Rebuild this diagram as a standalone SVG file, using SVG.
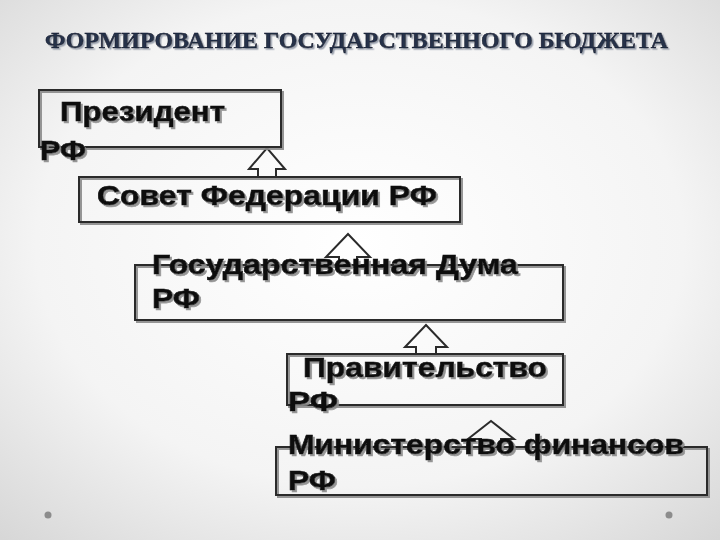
<svg xmlns="http://www.w3.org/2000/svg" width="720" height="540" viewBox="0 0 720 540">
<defs>
<radialGradient id="bg" cx="50%" cy="45%" r="75%">
<stop offset="0" stop-color="#ffffff"/>
<stop offset="0.6" stop-color="#f4f4f4"/>
<stop offset="1" stop-color="#d6d6d6"/>
</radialGradient>
<filter id="sh" x="-5%" y="-20%" width="110%" height="150%">
<feDropShadow dx="2" dy="2" stdDeviation="0.6" flood-color="#8a8a8a" flood-opacity="0.9"/>
</filter>
<filter id="tsh" x="-5%" y="-30%" width="110%" height="160%">
<feDropShadow dx="1.5" dy="1.5" stdDeviation="0.5" flood-color="#9aa0ad" flood-opacity="1"/>
</filter>
</defs>
<style>
.box{fill:none;stroke:#2b2b2b;stroke-width:2}
.arr{fill:none;stroke:#2b2b2b;stroke-width:2;stroke-linejoin:miter}
.t{font-family:"Liberation Sans",Arial,sans-serif;font-weight:bold;font-size:27px;fill:#111;stroke:#111;stroke-width:0.6}
.title{font-family:"Liberation Serif","Times New Roman",serif;font-weight:bold;font-size:23px;fill:#26304a;stroke:#0f1626;stroke-width:0.5}
.dot{fill:#8c8c8c}
</style>
<rect width="720" height="540" fill="url(#bg)"/>
<text class="title" x="45" y="48" textLength="623" lengthAdjust="spacingAndGlyphs" filter="url(#tsh)">ФОРМИРОВАНИЕ ГОСУДАРСТВЕННОГО БЮДЖЕТА</text>

<g id="connectors">
<polyline class="arr" points="258,177 258,169 249,169 267,148 285,169 276,169 276,177"/>
<polyline class="arr" points="339,265 339,257 326,257 348,234 370,257 357,257 357,265"/>
<polyline class="arr" points="416,354 416,347 405,347 426,325 447,347 436,347 436,354"/>
<polyline class="arr" points="481,447 481,439 468,439 491,421 514,439 501,439 501,447"/>
</g>

<g id="president">
<rect class="box" x="39" y="90" width="242" height="57" filter="url(#sh)"/>
<text class="t" x="60" y="121" textLength="165" lengthAdjust="spacingAndGlyphs" filter="url(#sh)">Президент</text>
<text class="t" x="40" y="160" textLength="46" lengthAdjust="spacingAndGlyphs" filter="url(#sh)">РФ</text>
</g>

<g id="sovfed">
<rect class="box" x="79" y="177" width="381" height="45" filter="url(#sh)"/>
<text class="t" x="97" y="205" textLength="340" lengthAdjust="spacingAndGlyphs" filter="url(#sh)">Совет Федерации РФ</text>
</g>

<g id="gosduma">
<rect class="box" x="135" y="265" width="428" height="55" filter="url(#sh)"/>
<text class="t" x="152" y="274" textLength="366" lengthAdjust="spacingAndGlyphs" filter="url(#sh)">Государственная Дума</text>
<text class="t" x="152" y="308" textLength="48" lengthAdjust="spacingAndGlyphs" filter="url(#sh)">РФ</text>
</g>

<g id="pravitelstvo">
<rect class="box" x="287" y="354" width="276" height="51" filter="url(#sh)"/>
<text class="t" x="303" y="377" textLength="244" lengthAdjust="spacingAndGlyphs" filter="url(#sh)">Правительство</text>
<text class="t" x="288" y="411" textLength="50" lengthAdjust="spacingAndGlyphs" filter="url(#sh)">РФ</text>
</g>

<g id="minfin">
<rect class="box" x="276" y="447" width="431" height="48" filter="url(#sh)"/>
<text class="t" x="288" y="454" textLength="396" lengthAdjust="spacingAndGlyphs" filter="url(#sh)">Министерство финансов</text>
<text class="t" x="288" y="490" textLength="48" lengthAdjust="spacingAndGlyphs" filter="url(#sh)">РФ</text>
</g>

<circle class="dot" cx="48" cy="515" r="3.5"/>
<circle class="dot" cx="669" cy="515" r="3.5"/>
</svg>
